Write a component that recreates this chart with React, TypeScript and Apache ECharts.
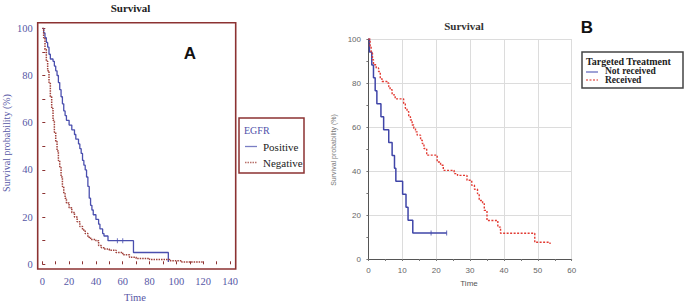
import React, { useEffect, useRef } from "react";
import * as echarts from "echarts";

// Panel A: EGFR (time, survival %)
const egfrPositive: [number, number][] = [
  [0, 100], [1, 98], [2, 96], [3, 94], [4, 92], [5, 89], [6, 87], [8, 86], [9, 84], [10, 82],
  [11, 80], [12, 77], [13, 74], [14, 71], [15, 68], [16, 65], [17, 63], [18, 61], [20, 59],
  [22, 57], [24, 55], [25, 53], [27, 51], [28, 49], [29, 47], [30, 44], [31, 42], [32, 40],
  [33, 37], [34, 33], [35, 28], [36, 25], [37, 23], [38, 21], [40, 19], [42, 17], [43, 15],
  [45, 13], [46, 12], [49, 10], [68, 5], [94, 1],
];
const egfrNegative: [number, number][] = [
  [0, 100], [1, 96], [2, 91], [3, 86], [4, 82], [5, 77], [6, 71], [7, 66], [8, 61], [9, 56],
  [10, 52], [11, 48], [12, 44], [13, 41], [14, 37], [15, 33], [16, 30], [17, 28], [18, 26],
  [20, 24], [22, 22], [24, 20], [26, 18], [28, 16], [30, 14.5], [32, 13], [34, 11.5],
  [36, 10.5], [40, 10], [42, 8], [44, 7], [46, 6.5], [50, 6], [55, 5], [60, 4], [65, 3],
  [70, 2.5], [80, 2], [95, 1.5], [104, 1], [120, 1],
];
const egfrPositiveCensored: [number, number][] = [[56, 10], [60, 10]];

// Panel B: Targeted treatment (time, survival %)
const notReceived: [number, number][] = [
  [0, 100], [0.3, 94.1], [1, 88.2], [1.5, 82.4], [2, 76.5], [2.5, 70.6], [3.7, 64.7],
  [4.5, 58.8], [6, 52.9], [7, 47.1], [7.7, 41.2], [8.1, 35.3], [10.1, 29.4], [11.1, 23.5],
  [11.7, 17.6], [13.1, 11.8], [23.1, 11.8],
];
const notReceivedCensored: [number, number][] = [[18.5, 11.8], [23.1, 11.8]];
const received: [number, number][] = [
  [0, 100], [0.5, 96.7], [0.8, 93.6], [1.2, 90.6], [1.5, 88.3], [2.3, 86.8], [3, 85.2],
  [3.5, 82], [4, 80.7], [5.5, 80], [6, 78.4], [6.4, 76.9], [7, 74.6], [7.9, 72.8], [9.9, 72.8],
  [10.4, 70.8], [10.9, 68.5], [11.4, 67], [11.9, 64.7], [12.4, 63.2], [12.9, 60.9],
  [13.4, 59.4], [13.9, 57.8], [14.4, 56.3], [15.4, 54], [15.9, 52.5], [16.4, 50.2],
  [17.2, 47.2], [20.3, 44.1], [21.3, 42.6], [22.1, 40.3], [25.3, 38.8], [26.3, 38],
  [29.1, 35.8], [30.5, 33.5], [31.3, 31.7], [32.2, 29.7], [32.7, 26.6], [33.7, 25.1],
  [34.2, 22.1], [35, 17.5], [38.2, 14.5], [39, 11.7], [49.1, 7.6], [53.6, 6.8],
];

const titleText = "Survival";
const yName = "Survival probability (%)";
const xName = "Time";

const MAROON = "#8c3232";
const BLUE_A = "#4a4fae";
const RED_A = "#a0403a";
const BLUE_B = "#3f45a8";
const RED_B = "#e23a32";
const LABEL_A = "#5757a6";
const SERIF = "'Liberation Serif', 'Times New Roman', serif";
const SANS = "'Liberation Sans', Arial, sans-serif";

function txt(x: number, y: number, text: string, size: number, family: string, fill: string,
  weight: string = "normal", align: string = "center", rotation: number = 0) {
  return {
    type: "text", x, y, rotation, silent: true,
    style: {
      text, fontSize: size, fontFamily: family, fontWeight: weight, fill,
      textAlign: align, textVerticalAlign: "middle",
    },
  };
}

export default function App() {
  const ref = useRef<HTMLDivElement>(null);
  useEffect(() => {
    document.body.style.margin = "0";
    const chart = echarts.init(ref.current!, undefined, { renderer: "svg" });
    const option: any = {
      animation: false,
      backgroundColor: "#ffffff",
      grid: [
        { left: 42.3, top: 28.3, width: 187.7, height: 236 },
        { left: 368.4, top: 39, width: 203.3, height: 220 },
      ],
      xAxis: [
        {
          type: "value", gridIndex: 0, min: 0, max: 140, interval: 10, offset: 4.7,
          axisLine: { show: false },
          axisTick: { show: true, inside: true, length: 3, lineStyle: { color: MAROON } },
          axisLabel: {
            margin: 7, fontFamily: SERIF, fontSize: 10.5, color: LABEL_A,
            formatter: (v: number) => (v % 20 === 0 ? String(v) : ""),
          },
          splitLine: { show: false },
        },
        {
          type: "value", gridIndex: 1, min: 0, max: 60, interval: 10, offset: 2.5,
          axisLine: { show: true, lineStyle: { color: "#555", width: 1 } },
          axisTick: { show: true, length: 2, lineStyle: { color: "#777" } },
          minorTick: { show: true, splitNumber: 2, length: 2, lineStyle: { color: "#777" } },
          axisLabel: { margin: 5, fontFamily: SANS, fontSize: 8, color: "#666" },
          splitLine: { show: true, lineStyle: { color: "#dcdcdc", width: 1 } },
        },
      ],
      yAxis: [
        {
          type: "value", gridIndex: 0, min: 0, max: 100, interval: 10, offset: 4.6,
          axisLine: { show: false },
          axisTick: { show: true, inside: true, length: 3, lineStyle: { color: MAROON } },
          axisLabel: {
            margin: 5, fontFamily: SERIF, fontSize: 10.5, color: LABEL_A,
            formatter: (v: number) => (v % 20 === 0 ? String(v) : ""),
          },
          splitLine: { show: false },
        },
        {
          type: "value", gridIndex: 1, min: 0, max: 100, interval: 20, offset: 2.4,
          axisLine: { show: true, lineStyle: { color: "#555", width: 1 } },
          axisTick: { show: true, length: 2, lineStyle: { color: "#777" } },
          minorTick: { show: true, splitNumber: 2, length: 2, lineStyle: { color: "#777" } },
          axisLabel: { margin: 5, fontFamily: SANS, fontSize: 8, color: "#666" },
          splitLine: { show: true, lineStyle: { color: "#dcdcdc", width: 1 } },
        },
      ],
      series: [
        {
          name: "Positive", type: "line", step: "end", xAxisIndex: 0, yAxisIndex: 0,
          data: egfrPositive, showSymbol: false, lineStyle: { color: BLUE_A, width: 1.3 },
        },
        {
          name: "Negative", type: "line", step: "end", xAxisIndex: 0, yAxisIndex: 0,
          data: egfrNegative, showSymbol: false,
          lineStyle: { color: RED_A, width: 1.5, type: [1.5, 1] },
        },
        {
          name: "Positive censored", type: "scatter", xAxisIndex: 0, yAxisIndex: 0,
          data: egfrPositiveCensored, symbol: "rect", symbolSize: [1, 5],
          itemStyle: { color: BLUE_A },
        },
        {
          name: "Not received", type: "line", step: "end", xAxisIndex: 1, yAxisIndex: 1,
          data: notReceived, showSymbol: false, lineStyle: { color: BLUE_B, width: 1.5 },
        },
        {
          name: "Not received censored", type: "scatter", xAxisIndex: 1, yAxisIndex: 1,
          data: notReceivedCensored, symbol: "rect", symbolSize: [1, 5],
          itemStyle: { color: BLUE_B },
        },
        {
          name: "Received", type: "line", step: "end", xAxisIndex: 1, yAxisIndex: 1,
          data: received, showSymbol: false,
          lineStyle: { color: RED_B, width: 1.4, type: [2, 1.5] },
        },
      ],
      graphic: [
        // Panel A
        { type: "rect", shape: { x: 37.7, y: 22.7, width: 198, height: 246.3 },
          style: { fill: "none", stroke: MAROON, lineWidth: 1.6 }, silent: true },
        txt(130.5, 8, titleText, 11, SERIF, "#222", "bold"),
        txt(190, 53, "A", 17, SANS, "#111", "bold"),
        txt(6, 143, yName, 10, SERIF, LABEL_A, "normal", "center", Math.PI / 2),
        txt(135, 297, xName, 10.5, SERIF, LABEL_A),
        { type: "rect", shape: { x: 239, y: 118, width: 65, height: 55 },
          style: { fill: "#fff", stroke: MAROON, lineWidth: 1.5 } },
        txt(244, 130, "EGFR", 10, SERIF, "#5050aa", "normal", "left"),
        { type: "line", shape: { x1: 245, y1: 146.5, x2: 257, y2: 146.5 }, style: { stroke: "#7a7ec4", lineWidth: 1.3 } },
        txt(263, 146.5, "Positive", 11, SERIF, "#222", "normal", "left"),
        { type: "line", shape: { x1: 245, y1: 162.5, x2: 257, y2: 162.5 }, style: { stroke: "#b8706a", lineWidth: 1.5, lineDash: [1.5, 1] } },
        txt(263, 163, "Negative", 11, SERIF, "#222", "normal", "left"),
        // Panel B
        txt(464, 26, titleText, 11, SERIF, "#333", "bold"),
        txt(587, 27, "B", 17, SANS, "#111", "bold"),
        txt(333, 150, yName, 7, SANS, "#777", "normal", "center", Math.PI / 2),
        txt(469, 283, xName, 8, SANS, "#555"),
        { type: "rect", shape: { x: 582, y: 52, width: 101, height: 36 },
          style: { fill: "#fff", stroke: "#444", lineWidth: 1.5 } },
        txt(586, 61, "Targeted Treatment", 10, SERIF, "#222", "bold", "left"),
        { type: "line", shape: { x1: 586, y1: 72, x2: 598, y2: 72 }, style: { stroke: "#6a70c0", lineWidth: 1.3 } },
        txt(605, 70.5, "Not received", 9.5, SERIF, "#222", "bold", "left"),
        { type: "line", shape: { x1: 586, y1: 80, x2: 598, y2: 80 }, style: { stroke: "#e8706a", lineWidth: 1.3, lineDash: [2, 1.5] } },
        txt(605, 79.5, "Received", 9.5, SERIF, "#222", "bold", "left"),
      ],
    };
    chart.setOption(option);
    return () => chart.dispose();
  }, []);
  return <div ref={ref} style={{ width: 685, height: 303 }} />;
}
